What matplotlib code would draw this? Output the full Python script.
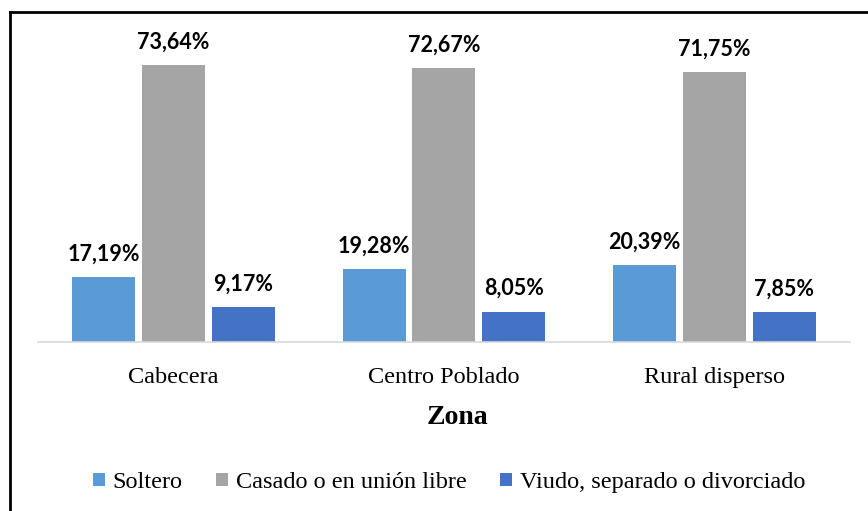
import matplotlib
matplotlib.use('Agg')
import matplotlib.pyplot as plt
import numpy as np
from matplotlib.lines import Line2D

zonas = ['Cabecera', 'Centro Poblado', 'Rural disperso']
series = ['Soltero', 'Casado o en unión libre', 'Viudo, separado o divorciado']
soltero = [17.19, 19.28, 20.39]
casado = [73.64, 72.67, 71.75]
viudo = [9.17, 8.05, 7.85]
colores = ['#5B9BD5', '#A5A5A5', '#4472C4']

fig = plt.figure(figsize=(8.68, 5.11), dpi=100)
ax = fig.add_axes([0.044, 0.331, 0.935, 0.626])

x = np.arange(len(zonas))
ancho = 0.233
paso = 0.258
for i, (vals, nombre, color) in enumerate(zip([soltero, casado, viudo], series, colores)):
    pos = x + (i - 1) * paso
    ax.bar(pos, vals, width=ancho, color=color, label=nombre)
    for px, v in zip(pos, vals):
        txt = f'{v:.2f}%'.replace('.', ',')
        ax.annotate(txt, (px, v), xytext=(0, 9), textcoords='offset points',
                    ha='center', va='bottom', fontsize=15.5, fontweight='bold',
                    family='Lato')

ax.set_xlim(-0.5, 2.5)
ax.set_ylim(0, 85)
ax.set_yticks([])
for s in ['top', 'right', 'left']:
    ax.spines[s].set_visible(False)
ax.spines['bottom'].set_color('#d9d9d9')
ax.spines['bottom'].set_linewidth(1.2)
ax.set_xticks(x)
ax.set_xticklabels(zonas, family='Liberation Serif', fontsize=17.5)
ax.tick_params(axis='x', length=0, pad=18)
ax.set_xlabel('Zona', family='Liberation Serif', fontsize=20, fontweight='bold', labelpad=12)
ax.xaxis.label.set_x(0.517)

ax.legend(loc='center', bbox_to_anchor=(0.506, -0.44), ncol=3, frameon=False,
          prop={'family': 'Liberation Serif', 'size': 17.5}, handlelength=0.5,
          handleheight=0.5, handletextpad=0.3, columnspacing=1.4)

# marco del grafico (solo izquierda y arriba)
fig.add_artist(Line2D([10 / 868, 10 / 868], [0, 1 - 12 / 511], transform=fig.transFigure,
                      color='black', lw=2))
fig.add_artist(Line2D([10 / 868, 1], [1 - 12 / 511, 1 - 12 / 511], transform=fig.transFigure,
                      color='black', lw=2))

fig.savefig('out.png', dpi=100)
